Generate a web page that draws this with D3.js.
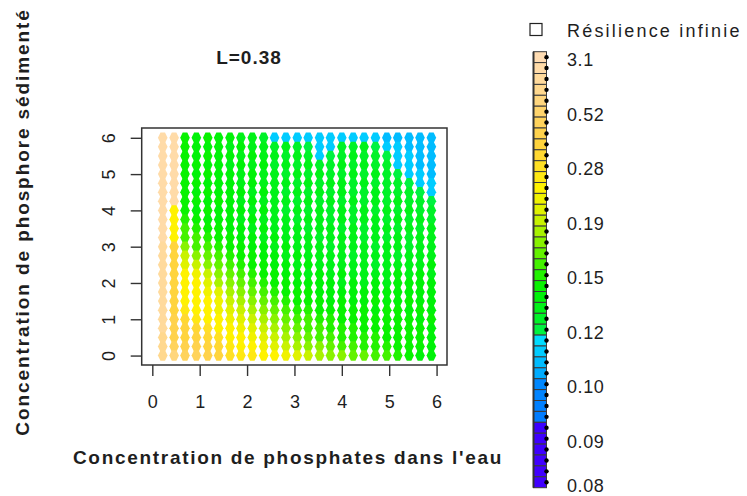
<!DOCTYPE html>
<html><head><meta charset="utf-8">
<script src="https://cdn.jsdelivr.net/npm/d3@7"></script>
<style>
body{margin:0;background:#fff}
svg{display:block}
text{font-family:"Liberation Sans",Arial,sans-serif;fill:#1e1e1e}
</style>
</head><body><svg id="chart" width="747" height="496"></svg>
<script>
// ---- data ----
const xValues = [0.22,0.46,0.69,0.93,1.17,1.40,1.64,1.87,2.11,2.35,2.58,2.82,3.06,3.29,3.53,3.76,4.00,4.24,4.47,4.71,4.95,5.18,5.42,5.65,5.89];
const yValues = [6,5.75,5.5,5.25,5,4.75,4.5,4.25,4,3.75,3.5,3.25,3,2.75,2.5,2.25,2,1.75,1.5,1.25,1,0.75,0.5,0.25,0];
// resilience per cell, one row per y value (top row y=6 first), columns follow xValues
const resilienceRows = [
[2.6,2.6,.144,.138,.144,.138,.138,.132,.132,.126,.112,.112,.112,.112,.112,.112,.112,.112,.112,.112,.108,.108,.108,.108,.108],
[2.6,2.6,.144,.138,.138,.138,.132,.138,.132,.132,.126,.132,.126,.12,.112,.112,.126,.126,.132,.12,.112,.112,.108,.108,.108],
[2.6,2.6,.144,.138,.144,.138,.138,.132,.138,.132,.132,.126,.132,.126,.112,.12,.126,.132,.126,.126,.12,.112,.112,.108,.108],
[2.6,2.6,.144,.144,.138,.138,.132,.138,.132,.138,.126,.132,.126,.132,.126,.126,.132,.126,.132,.126,.126,.112,.112,.108,.108],
[2.6,2.6,.144,.138,.144,.138,.138,.132,.138,.132,.132,.126,.132,.126,.132,.126,.126,.132,.126,.132,.126,.12,.112,.112,.108],
[2.6,2.6,.144,.144,.138,.138,.138,.132,.138,.132,.132,.132,.126,.132,.126,.132,.132,.126,.132,.126,.126,.126,.12,.112,.112],
[2.6,2.6,.144,.138,.144,.138,.138,.138,.132,.138,.132,.126,.132,.126,.132,.126,.132,.126,.126,.132,.126,.126,.126,.12,.112],
[2.6,2.6,.144,.144,.138,.144,.138,.132,.138,.132,.132,.132,.126,.132,.126,.132,.126,.132,.126,.132,.126,.132,.126,.126,.12],
[2.6,.245,.144,.138,.144,.138,.138,.138,.132,.138,.132,.126,.132,.126,.132,.126,.132,.126,.132,.126,.132,.126,.132,.126,.126],
[2.6,.245,.15,.144,.138,.138,.138,.132,.138,.132,.132,.132,.126,.132,.132,.126,.132,.126,.132,.132,.126,.132,.126,.132,.126],
[2.6,.245,.158,.15,.144,.144,.138,.138,.132,.138,.132,.132,.132,.126,.132,.132,.126,.132,.126,.132,.132,.126,.132,.126,.132],
[2.6,.245,.158,.158,.15,.144,.144,.138,.138,.132,.138,.132,.132,.132,.126,.132,.132,.132,.126,.132,.126,.132,.126,.132,.132],
[2.07,.38,.174,.158,.158,.15,.144,.144,.138,.138,.132,.138,.132,.132,.132,.126,.132,.132,.132,.126,.132,.132,.126,.132,.132],
[2.07,.38,.19,.174,.166,.158,.15,.144,.144,.138,.138,.132,.138,.132,.132,.132,.132,.126,.132,.132,.132,.126,.132,.132,.132],
[2.07,.38,.208,.19,.174,.166,.158,.15,.144,.144,.138,.138,.132,.138,.132,.132,.132,.132,.132,.126,.132,.132,.132,.132,.138],
[2.07,.38,.245,.226,.19,.174,.166,.158,.15,.144,.144,.138,.138,.132,.138,.132,.138,.132,.132,.132,.132,.138,.132,.138,.132],
[2.07,.38,.245,.245,.208,.182,.174,.166,.158,.15,.144,.144,.138,.138,.138,.138,.132,.138,.132,.138,.132,.138,.138,.138,.138],
[2.07,.38,.245,.245,.226,.208,.182,.174,.166,.158,.15,.144,.144,.144,.138,.138,.138,.138,.138,.138,.138,.138,.138,.138,.138],
[2.07,.38,.245,.245,.245,.226,.19,.182,.174,.166,.158,.15,.144,.144,.144,.138,.144,.138,.138,.144,.138,.138,.144,.138,.138],
[2.07,.38,.26,.245,.245,.226,.208,.19,.182,.174,.166,.158,.15,.15,.144,.144,.144,.144,.144,.138,.144,.144,.138,.144,.138],
[2.07,.42,.33,.26,.245,.245,.226,.208,.19,.182,.174,.166,.158,.158,.15,.15,.144,.144,.144,.144,.144,.144,.144,.138,.144],
[2.07,.42,.38,.33,.28,.245,.245,.226,.208,.19,.182,.174,.166,.158,.158,.15,.15,.15,.144,.144,.144,.144,.144,.144,.138],
[1.55,.42,.38,.38,.33,.28,.245,.245,.226,.208,.19,.182,.174,.166,.158,.158,.15,.15,.15,.15,.144,.144,.144,.144,.138],
[1.55,.47,.42,.42,.38,.33,.26,.245,.245,.226,.208,.19,.182,.174,.174,.166,.158,.158,.15,.15,.15,.144,.144,.144,.138],
[1.55,1.04,.47,.47,.42,.38,.28,.26,.26,.245,.245,.226,.208,.19,.182,.174,.174,.166,.166,.158,.158,.15,.144,.138,.138]
];
const legendTickValues = [3.1,0.52,0.28,0.19,0.15,0.12,0.10,0.09,0.08];
const legendTickLabels = ["3.1","0.52","0.28","0.19","0.15","0.12","0.10","0.09","0.08"];
const legendTickBoxes = [0,5,10,15,20,25,30,35,39];
const legendColors = [
"#FFDCB2","#FFDBA8","#FFDA9C","#FFD88E","#FFD67E","#FFD46C","#FFD35C","#FFD24C","#FFD43E","#FFD832",
"#FFE024","#FFE812","#FFF200","#F0F200","#E0F200","#C8F200","#A8F200","#88F200","#64F200","#44F200",
"#22F200","#08F200","#00F208","#00F218","#00F228","#00F240","#00DCFF","#00CCFF","#00BCFF","#00ACFF",
"#0088FF","#0084FF","#0080FF","#007CFF","#3C00FF","#3E00FF","#3E00FF","#4000FF","#4000FF","#4000FF"];
const xTicks = [0,1,2,3,4,5,6];
const yTicks = [0,1,2,3,4,5,6];
const titleText = "L=0.38";
const xLabel = "Concentration de phosphates dans l'eau";
const yLabel = "Concentration de phosphore sédimenté";
const infiniteLabel = "Résilience infinie";

// ---- drawing ----
const svg = d3.select("#chart");
const box = {left:141.7, right:447, top:128, bottom:365};
const x = d3.scaleLinear().domain([-0.224, 6.22]).range([box.left, box.right]);
const y = d3.scaleLinear().domain([-0.26, 6.27]).range([box.bottom, box.top]);

// value -> legend box index
const boxIndex = d3.scaleLinear().domain(legendTickValues).range(legendTickBoxes).clamp(true);
const colorOf = v => legendColors[Math.round(boxIndex(v))];

const cells = [];
resilienceRows.forEach((row, i) => row.forEach((v, j) => cells.push({x:xValues[j], y:yValues[i], v})));

const dot = "M-4.8,0L-2.3,-5.2L2.3,-5.2L4.8,0L2.3,5.2L-2.3,5.2Z";
svg.append("g").selectAll("path").data(cells).join("path")
  .attr("d", dot)
  .attr("transform", d => `translate(${x(d.x)},${y(d.y)})`)
  .attr("fill", d => colorOf(d.v));

// frame
svg.append("rect").attr("x", box.left).attr("y", box.top)
  .attr("width", box.right-box.left).attr("height", box.bottom-box.top)
  .attr("fill","none").attr("stroke","#333").attr("stroke-width",1.5);

// x axis
const gx = svg.append("g").attr("transform",`translate(0,${box.bottom})`)
  .call(d3.axisBottom(x).tickValues(xTicks).tickSize(11).tickFormat(d3.format("d")));
gx.select(".domain").remove();
gx.selectAll("line").attr("stroke","#333").attr("stroke-width",1.4);
gx.selectAll("text").attr("y",43).attr("dy",null).style("font-size","18px").attr("fill","#1e1e1e");

// y axis
const gy = svg.append("g").attr("transform",`translate(${box.left},0)`)
  .call(d3.axisLeft(y).tickValues(yTicks).tickSize(11).tickFormat(d3.format("d")));
gy.select(".domain").remove();
gy.selectAll("line").attr("stroke","#333").attr("stroke-width",1.4);
gy.selectAll("text").attr("transform","rotate(-90)").attr("x",0).attr("y",-27).attr("dy",null)
  .attr("text-anchor","middle").style("font-size","18px").attr("fill","#1e1e1e");

// title & labels
svg.append("text").attr("x",249).attr("y",64).attr("text-anchor","middle")
  .style("font-weight","bold").style("font-size","19px").style("letter-spacing","1px").text(titleText);
svg.append("text").attr("x",288).attr("y",464).attr("text-anchor","middle")
  .style("font-weight","bold").style("font-size","19px").style("letter-spacing","1.7px").text(xLabel);
svg.append("text").attr("transform","translate(29,222) rotate(-90)").attr("text-anchor","middle")
  .style("font-weight","bold").style("font-size","19px").style("letter-spacing","1.9px").text(yLabel);

// legend
const lg = svg.append("g");
const boxTop = 51.7, boxH = 10.9, bx = 533.5, bw = 13;
lg.append("rect").attr("x",530).attr("y",23.5).attr("width",12).attr("height",12)
  .attr("fill","#fff").attr("stroke","#222").attr("stroke-width",1.2);
lg.append("text").attr("x",567).attr("y",37).style("font-size","18px").style("letter-spacing","2.2px").text(infiniteLabel);
lg.selectAll("rect.cb").data(legendColors).join("rect").attr("class","cb")
  .attr("x",bx).attr("y",(d,i)=>boxTop+i*boxH).attr("width",bw).attr("height",boxH)
  .attr("fill",d=>d).attr("stroke","#3a3a3a").attr("stroke-width",1);
lg.append("line").attr("x1",bx).attr("x2",bx).attr("y1",boxTop).attr("y2",boxTop+legendColors.length*boxH)
  .attr("stroke","#333").attr("stroke-width",2);
lg.selectAll("circle").data(legendColors).join("circle")
  .attr("cx",bx+bw).attr("cy",(d,i)=>boxTop+i*boxH+boxH/2).attr("r",2.2).attr("fill","#000");
lg.selectAll("text.tl").data(legendTickLabels).join("text").attr("class","tl")
  .attr("x",567).attr("y",(d,i)=>boxTop+legendTickBoxes[i]*boxH+boxH/2+3)
  .attr("dy","0.35em").style("font-size","18px").style("letter-spacing","0.6px").text(d=>d);
</script>
</body></html>
